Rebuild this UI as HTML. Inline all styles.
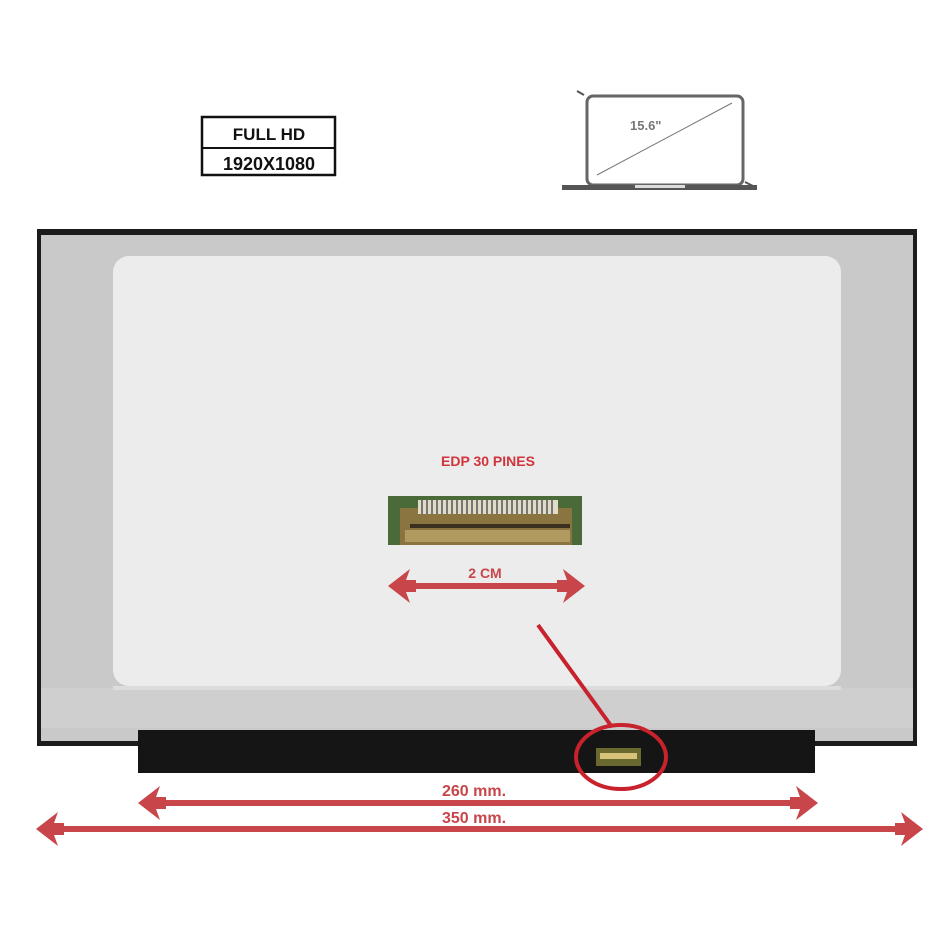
<!DOCTYPE html>
<html><head><style>html,body{margin:0;padding:0;background:#fff}svg{display:block}</style></head>
<body>
<svg width="950" height="950" viewBox="0 0 950 950" xmlns="http://www.w3.org/2000/svg">
<defs>
<g id="ah"><path d="M0,0 L22,-17 L18,-6 L28,-6 L28,6 L18,6 L22,17 Z" fill="#c8454a"/></g>
</defs>
<rect width="950" height="950" fill="#fff"/>
<!-- Full HD box -->
<rect x="202" y="117" width="133" height="58" fill="#fff" stroke="#111" stroke-width="2.5"/>
<line x1="202" y1="148" x2="335" y2="148" stroke="#111" stroke-width="2"/>
<text x="269" y="140" font-family="Liberation Sans, sans-serif" font-size="17" font-weight="bold" text-anchor="middle" fill="#111">FULL HD</text>
<text x="269" y="170" font-family="Liberation Sans, sans-serif" font-size="18" font-weight="bold" text-anchor="middle" fill="#111">1920X1080</text>
<!-- laptop -->
<rect x="587" y="96" width="156" height="89" rx="6" fill="#fff" stroke="#666" stroke-width="3"/>
<line x1="597" y1="175" x2="732" y2="103" stroke="#777" stroke-width="1"/>
<text x="630" y="130" font-family="Liberation Sans, sans-serif" font-size="13" font-weight="bold" fill="#777">15.6"</text>
<rect x="562" y="185" width="195" height="5" fill="#555"/>
<rect x="635" y="185" width="50" height="3" fill="#ddd"/>
<line x1="577" y1="91" x2="584" y2="95" stroke="#555" stroke-width="2"/>
<line x1="745" y1="182" x2="755" y2="187" stroke="#555" stroke-width="2"/>
<!-- panel -->
<rect x="37" y="229" width="880" height="517" fill="#1c1c1c"/>
<rect x="41" y="235" width="872" height="506" fill="#c9c9c9"/>
<rect x="113" y="256" width="728" height="430" rx="16" fill="#ececec"/>
<rect x="41" y="688" width="872" height="40" fill="#cfcfcf"/>
<rect x="113" y="686" width="728" height="4" fill="#dcdcdc"/>
<rect x="138" y="730" width="677" height="43" fill="#151515"/>
<rect x="596" y="748" width="45" height="18" fill="#6a6a30"/>
<rect x="600" y="753" width="37" height="6" fill="#d8c27a"/>
<!-- connector image -->
<rect x="388" y="496" width="194" height="49" fill="#4a6a3a"/>
<rect x="400" y="508" width="172" height="37" fill="#8a7440"/>
<rect x="418" y="500" width="140" height="14" fill="#e0dcc8"/>
<g stroke="#555" stroke-width="1.5">
<path d="M422,500v14M427,500v14M432,500v14M437,500v14M442,500v14M447,500v14M452,500v14M457,500v14M462,500v14M467,500v14M472,500v14M477,500v14M482,500v14M487,500v14M492,500v14M497,500v14M502,500v14M507,500v14M512,500v14M517,500v14M522,500v14M527,500v14M532,500v14M537,500v14M542,500v14M547,500v14M552,500v14"/>
</g>
<rect x="410" y="524" width="160" height="4" fill="#3a3020"/>
<rect x="405" y="530" width="165" height="12" fill="#b09a60"/>
<text x="488" y="466" font-family="Liberation Sans, sans-serif" font-size="14" font-weight="bold" text-anchor="middle" fill="#d0343c">EDP 30 PINES</text>
<!-- 2cm arrow -->
<rect x="405" y="583" width="160" height="6" fill="#c8454a"/>
<use href="#ah" x="388" y="586"/>
<use href="#ah" transform="translate(585,586) scale(-1,1)"/>
<text x="485" y="578" font-family="Liberation Sans, sans-serif" font-size="14" font-weight="bold" text-anchor="middle" fill="#c8454a">2 CM</text>
<!-- pointer -->
<line x1="538" y1="625" x2="612" y2="727" stroke="#c8222c" stroke-width="4"/>
<ellipse cx="621" cy="757" rx="45" ry="32" fill="none" stroke="#c8222c" stroke-width="4"/>
<!-- 260 -->
<rect x="155" y="800" width="645" height="6" fill="#c8454a"/>
<use href="#ah" x="138" y="803"/>
<use href="#ah" transform="translate(818,803) scale(-1,1)"/>
<text x="474" y="796" font-family="Liberation Sans, sans-serif" font-size="16" font-weight="bold" text-anchor="middle" fill="#c8454a">260 mm.</text>
<!-- 350 -->
<rect x="55" y="826" width="850" height="6" fill="#c8454a"/>
<use href="#ah" x="36" y="829"/>
<use href="#ah" transform="translate(923,829) scale(-1,1)"/>
<text x="474" y="823" font-family="Liberation Sans, sans-serif" font-size="16" font-weight="bold" text-anchor="middle" fill="#c8454a">350 mm.</text>
</svg>
</body></html>
